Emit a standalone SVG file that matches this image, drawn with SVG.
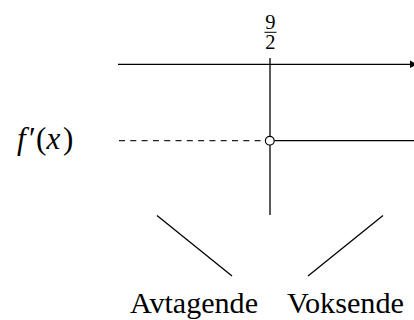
<svg xmlns="http://www.w3.org/2000/svg" width="414" height="320" viewBox="0 0 414 320">
<style>
.ln{stroke:#000;stroke-width:1.3;fill:none}
.t{font-family:"Liberation Serif","Times New Roman",serif;fill:#000}
</style>
<rect width="414" height="320" fill="#fff"/>
<g id="connectors">
<line class="ln" x1="118" y1="64.3" x2="412" y2="64.3"/>
<polygon points="410,60.5 417,64.3 410,68" fill="#000"/>
<line class="ln" x1="270" y1="58" x2="270" y2="136"/>
<line class="ln" x1="270" y1="145.5" x2="270" y2="215"/>
<line x1="119" y1="140.7" x2="265" y2="140.7" stroke="#222" stroke-width="1.2" stroke-dasharray="6 5.3"/>
<line class="ln" x1="274.5" y1="140.7" x2="414" y2="140.7"/>
<line class="ln" x1="157" y1="215.5" x2="232" y2="276"/>
<line class="ln" x1="308" y1="276" x2="383" y2="215.5"/>
</g>
<g id="point">
<circle cx="269.8" cy="140.7" r="4.4" fill="#fff" stroke="#000" stroke-width="1.2"/>
</g>
<g id="label-fx">
<text class="t" y="148.5" font-size="31"><tspan x="17" font-style="italic">f</tspan><tspan x="29">′</tspan><tspan x="36">(</tspan><tspan x="46.5" font-style="italic">x</tspan><tspan x="63">)</tspan></text>
</g>
<g id="label-frac">
<text class="t" x="270.3" y="29" font-size="20.5" text-anchor="middle">9</text>
<line x1="264.5" y1="32.3" x2="276.5" y2="32.3" stroke="#000" stroke-width="1"/>
<text class="t" x="270.3" y="49.2" font-size="20.5" text-anchor="middle">2</text>
</g>
<g id="avtagende">
<text class="t" x="130" y="313.3" font-size="30" textLength="128" lengthAdjust="spacingAndGlyphs">Avtagende</text>
</g>
<g id="voksende">
<text class="t" x="287" y="313.3" font-size="30" textLength="117" lengthAdjust="spacingAndGlyphs">Voksende</text>
</g>
</svg>
